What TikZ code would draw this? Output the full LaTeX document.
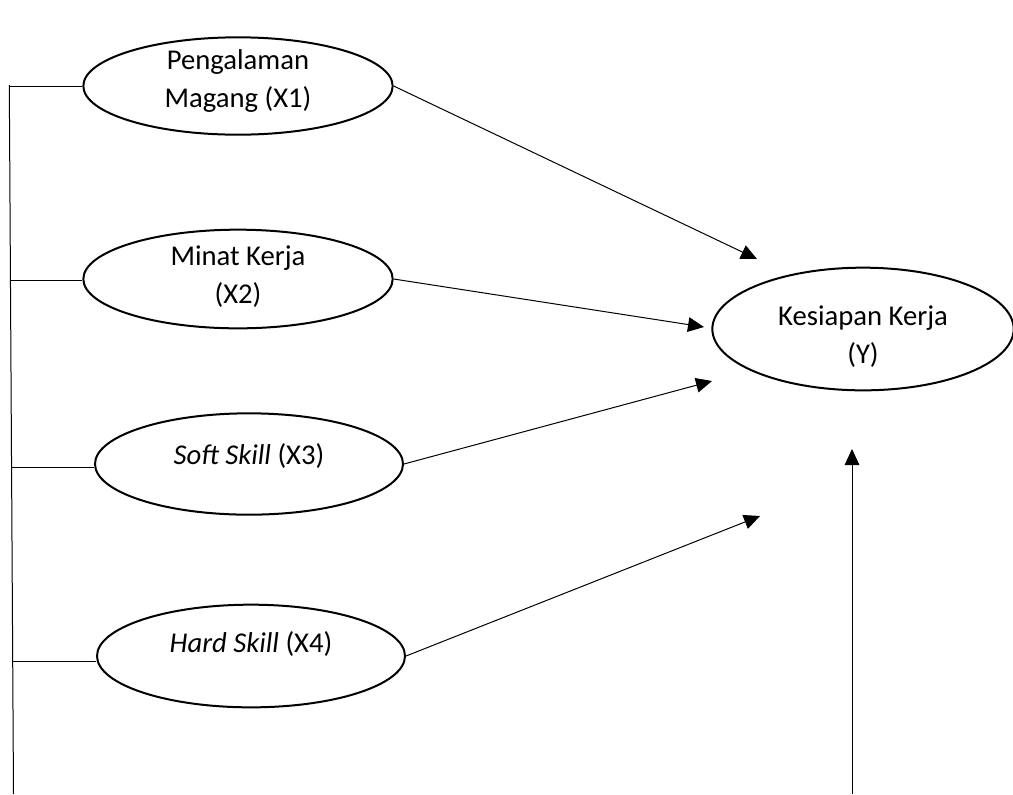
\documentclass[tikz,border=0pt]{standalone}
\usepackage{fontspec}
\setmainfont{Carlito}
\usetikzlibrary{arrows.meta,shapes.geometric}
\begin{document}
\begin{tikzpicture}[x=0.75pt,y=-0.75pt,
  var/.style={draw, line width=1.5pt, ellipse, inner sep=0pt},
  txt/.style={font=\fontsize{21.5}{28.5}\selectfont, align=center},
  thin/.style={line width=0.75pt},
  arr/.style={line width=0.75pt, -{Triangle[length=12pt,width=11pt]}}]
\useasboundingbox (0,0) rectangle (1013,794);
% ellipses
\node[var, minimum width=232pt, minimum height=73pt,
  label={[txt,yshift=3.5pt]center:Pengalaman\\Magang (X1)}] (e1) at (238,86) {};
\node[var, minimum width=232pt, minimum height=74pt,
  label={[txt,yshift=2pt]center:Minat Kerja\\(X2)}] (e2) at (238,279) {};
\node[var, minimum width=231pt, minimum height=76pt,
  label={[txt,yshift=6pt]center:\textit{Soft Skill} (X3)}] (e3) at (249,464) {};
\node[var, minimum width=231pt, minimum height=77pt,
  label={[txt,yshift=9pt]center:\textit{Hard Skill} (X4)}] (e4) at (251,656) {};
\node[var, minimum width=226pt, minimum height=92pt,
  label={[txt,yshift=-6pt]center:Kesiapan Kerja\\(Y)}] (y) at (863,329) {};
% left bracket line
\coordinate (vtop) at (9.3,85);
\coordinate (vbot) at (13.5,794);
\coordinate (v1) at (9.3,86);
\coordinate (v2) at (11,280);
\coordinate (v3) at (12,467);
\coordinate (v4) at (12.8,661);
\draw[thin] (vtop) -- (vbot);
\draw[thin] (v1) -- (v1 -| e1.west);
\draw[thin] (v2) -- (v2 -| e2.west);
\draw[thin] (v3) -- (v3 -| e3.west);
\draw[thin] (v4) -- (v4 -| e4.west);
% arrows to Y
\coordinate (t1) at (757,259);
\coordinate (t2) at (704,327);
\coordinate (t3) at (712,381);
\coordinate (t4) at (760,516);
\draw[arr] (e1.east) -- (t1);
\draw[arr] (e2.east) -- (t2);
\draw[arr] (e3.east) -- (t3);
\draw[arr] (e4.east) -- (t4);
% vertical arrow
\coordinate (b0) at (852,794);
\coordinate (b1) at (852,449);
\draw[arr] (b0) -- (b1);
\end{tikzpicture}
\end{document}
